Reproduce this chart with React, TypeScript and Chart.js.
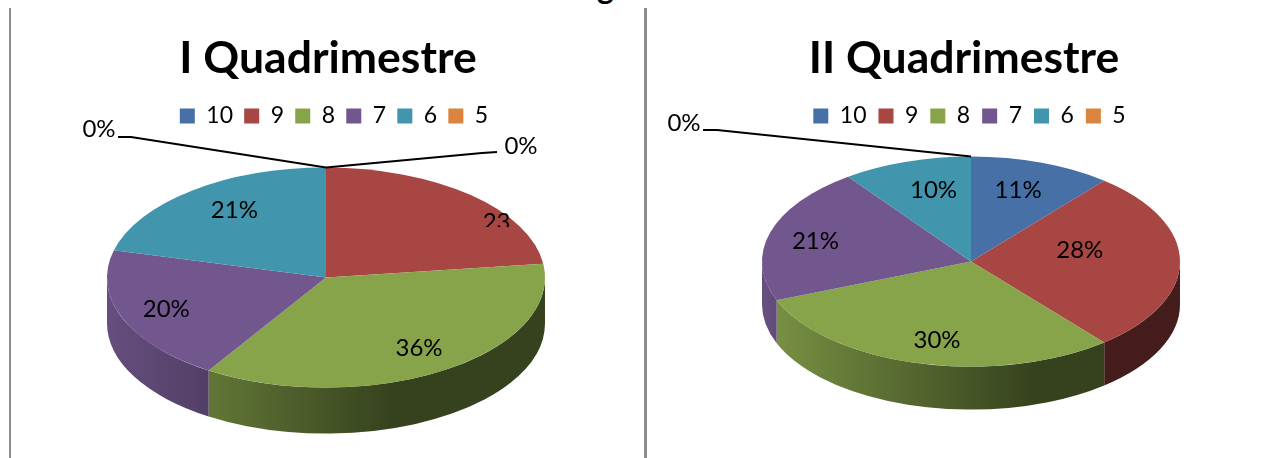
import React, { useEffect, useRef } from "react";
import { Chart, registerables } from "chart.js";

Chart.register(...registerables);

const categories = ["10", "9", "8", "7", "6", "5"];
const firstTermValues = [0, 23, 36, 20, 21, 0];
const secondTermValues = [11, 28, 30, 21, 10, 0];
const sliceColors = ["#4670A6", "#A74643", "#87A44B", "#71578D", "#4195AD", "#DB843D"];
const FONT = "Lato, Carlito, sans-serif";

const shade = (hex: string, f: number) => {
  const n = parseInt(hex.slice(1), 16);
  const c = [(n >> 16) & 255, (n >> 8) & 255, n & 255].map((v) => Math.round(v * f));
  return `rgb(${c[0]},${c[1]},${c[2]})`;
};

const pie3d = {
  id: "pie3d",
  afterLayout(chart: any, _a: any, o: any) {
    if (chart.legend) {
      chart.legend.left += o.legendShift;
      chart.legend.right += o.legendShift;
    }
  },
  beforeDatasetsDraw(chart: any, _a: any, o: any) {
    const { ctx } = chart;
    const arcs = chart.getDatasetMeta(0).data;
    ctx.save();
    arcs.forEach((arc: any, i: number) => {
      const p = arc.getProps(["startAngle", "endAngle"], true);
      const a = Math.max(p.startAngle, 0);
      const b = Math.min(p.endAngle, Math.PI);
      if (b <= a) return;
      const g = ctx.createLinearGradient(o.cx - o.rx, 0, o.cx + o.rx, 0);
      const base = sliceColors[i];
      g.addColorStop(0, shade(base, 0.9));
      g.addColorStop(0.65, shade(base, 0.4));
      g.addColorStop(1, shade(base, 0.4));
      ctx.beginPath();
      ctx.ellipse(o.cx, o.cy, o.rx, o.ry, 0, a, b);
      ctx.ellipse(o.cx, o.cy + o.depth, o.rx, o.ry, 0, b, a, true);
      ctx.closePath();
      ctx.fillStyle = g;
      ctx.fill();
    });
    ctx.restore();
    const arc0 = arcs[0].getProps(["x", "y", "outerRadius"], true);
    ctx.save();
    ctx.translate(o.cx, o.cy);
    ctx.scale(o.rx / arc0.outerRadius, o.ry / arc0.outerRadius);
    ctx.translate(-arc0.x, -arc0.y);
  },
  afterDatasetsDraw(chart: any, _a: any, o: any) {
    const { ctx } = chart;
    ctx.restore();
    const arcs = chart.getDatasetMeta(0).data;
    const values: number[] = chart.data.datasets[0].data;
    const total = values.reduce((s, v) => s + v, 0);
    ctx.save();
    ctx.fillStyle = "#000";
    ctx.strokeStyle = "#000";
    ctx.font = `24px ${FONT}`;
    ctx.textAlign = "center";
    ctx.textBaseline = "middle";
    arcs.forEach((arc: any, i: number) => {
      const p = arc.getProps(["startAngle", "endAngle"], true);
      const text = `${Math.round((values[i] / total) * 100)}%`;
      if (values[i] === 0) {
        const l = o.leaders[i];
        if (!l) return;
        const sx = o.cx + o.rx * Math.cos(p.startAngle);
        const sy = o.cy + o.ry * Math.sin(p.startAngle);
        ctx.beginPath();
        ctx.moveTo(sx, sy);
        ctx.lineTo(l.elbow[0], l.elbow[1]);
        ctx.lineTo(l.end[0], l.end[1]);
        ctx.lineWidth = 2;
        ctx.stroke();
        ctx.fillText(text, l.text[0], l.text[1]);
        return;
      }
      const mid = (p.startAngle + p.endAngle) / 2;
      const nudge = o.nudges[i] || [0, 0];
      const x = o.cx + 0.75 * o.rx * Math.cos(mid) + nudge[0];
      const y = o.cy + 0.75 * o.ry * Math.sin(mid) + nudge[1];
      const cut = o.cutLabels[i];
      if (cut) {
        ctx.save();
        ctx.beginPath();
        ctx.rect(x - 40, y - 20, 80, cut.clipBelow - (y - 20));
        ctx.clip();
        ctx.fillText(cut.text, x, y);
        ctx.restore();
      } else {
        ctx.fillText(text, x, y);
      }
    });
    ctx.restore();
  },
};

const panels = [
  {
    title: "I Quadrimestre",
    values: firstTermValues,
    left: 0,
    width: 656,
    legendGap: 11.2,
    titleBottom: 12.8,
    geom: {
      cx: 326, cy: 277.6, rx: 219, ry: 110, depth: 46, legendShift: 6,
      nudges: { 1: [62, 7], 2: [5, 1], 3: [-7, 1], 4: [9, -2] },
      cutLabels: { 1: { text: "23", clipBelow: 227 } },
      leaders: {
        0: { elbow: [482, 153], end: [497, 152], text: [521, 146] },
        5: { elbow: [131, 137], end: [118, 137], text: [99, 129] },
      },
    },
  },
  {
    title: "II Quadrimestre",
    values: secondTermValues,
    left: 661,
    width: 606,
    legendGap: 12,
    titleBottom: 12,
    geom: {
      cx: 310, cy: 261.6, rx: 209, ry: 105, depth: 43, legendShift: 5.5,
      nudges: { 0: [-6, 3], 1: [-48, -11], 2: [5, 2], 3: [-5, 2], 4: [11, 4] },
      cutLabels: {},
      leaders: {
        5: { elbow: [56, 130], end: [42, 130], text: [23, 123] },
      },
    },
  },
];

function Pie({ panel }: { panel: (typeof panels)[number] }) {
  const ref = useRef<HTMLCanvasElement>(null);
  useEffect(() => {
    const chart = new Chart(ref.current!, {
      type: "pie",
      plugins: [pie3d],
      data: {
        labels: categories,
        datasets: [
          {
            data: panel.values,
            backgroundColor: sliceColors,
            borderWidth: 0,
            clip: false,
          } as any,
        ],
      },
      options: {
        responsive: false,
        animation: false,
        layout: { padding: 0 },
        plugins: {
          tooltip: { enabled: false },
          title: {
            display: true,
            text: panel.title,
            color: "#000",
            font: { family: FONT, size: 44.5, weight: "bold", lineHeight: 1 },
            padding: { top: 36, bottom: panel.titleBottom },
          },
          legend: {
            position: "top",
            onClick: undefined as any,
            labels: {
              boxWidth: 15,
              boxHeight: 15,
              color: "#000",
              padding: panel.legendGap,
              font: { family: FONT, size: 23 },
            },
          },
          pie3d: panel.geom,
        } as any,
      },
    });
    return () => chart.destroy();
  }, [panel]);
  return (
    <canvas
      ref={ref}
      width={panel.width}
      height={458}
      style={{ position: "absolute", left: panel.left, top: 0 }}
    />
  );
}

export default function App() {
  const rule = (left: number, width: number): React.CSSProperties => ({
    position: "absolute",
    left,
    top: 8,
    width,
    height: 450,
    background: "#8c8c8c",
  });
  return (
    <div style={{ position: "fixed", inset: 0, background: "#fff", overflow: "hidden" }}>
      <div
        style={{
          position: "absolute",
          left: 597,
          top: -29,
          font: `bold 32px/32px ${FONT}`,
          color: "#000",
        }}
      >
        g
      </div>
      <div style={rule(9, 2)} />
      <div style={rule(644, 3)} />
      {panels.map((p) => (
        <Pie key={p.title} panel={p} />
      ))}
    </div>
  );
}
